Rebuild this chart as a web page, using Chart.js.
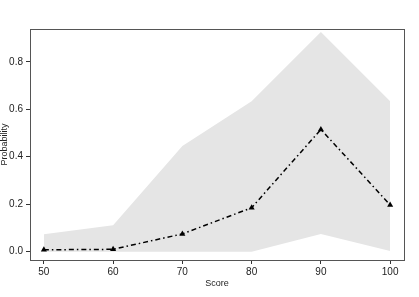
<!DOCTYPE html>
<html>
<head>
<meta charset="utf-8">
<script src="https://cdn.jsdelivr.net/npm/chart.js@4/dist/chart.umd.min.js"></script>
<style>
  html, body { margin: 0; padding: 0; background: #fff; }
  #wrap { width: 419px; height: 297px; }
</style>
</head>
<body>
<div id="wrap"><canvas id="grafico" width="419" height="297"></canvas></div>
<script>
// Data
const scores = [50, 60, 70, 80, 90, 100];
const probability = [0.008, 0.01, 0.075, 0.185, 0.515, 0.197];
const upperBand = [0.073, 0.111, 0.445, 0.634, 0.925, 0.634];
const lowerBand = [0.0, 0.0, 0.0, 0.0, 0.075, 0.003];
const xTicks = [50, 60, 70, 80, 90, 100];
const yTicks = [0.0, 0.2, 0.4, 0.6, 0.8];

const toPoints = (vals) => scores.map((s, i) => ({ x: s, y: vals[i] }));

// box around the plot area, like R's box()
const boxPlugin = {
  id: 'box',
  afterDraw(chart) {
    const a = chart.chartArea;
    const c = chart.ctx;
    c.save();
    c.strokeStyle = '#555';
    c.lineWidth = 1;
    c.strokeRect(Math.round(a.left) + 0.5, Math.round(a.top) + 0.5,
      Math.round(a.right - a.left), Math.round(a.bottom - a.top));
    c.restore();
  }
};

const ctx = document.getElementById('grafico').getContext('2d');

new Chart(ctx, {
  type: 'line',
  data: {
    datasets: [
      {
        label: 'lower',
        data: toPoints(lowerBand),
        borderWidth: 0,
        pointRadius: 0,
        fill: false,
        order: 2
      },
      {
        label: 'upper',
        data: toPoints(upperBand),
        borderWidth: 0,
        pointRadius: 0,
        backgroundColor: '#e5e5e5',
        fill: '-1',
        order: 1
      },
      {
        label: 'Probability',
        data: toPoints(probability),
        borderColor: '#000',
        borderWidth: 1.5,
        borderDash: [5, 3, 1.5, 3],
        pointStyle: 'triangle',
        pointRadius: 3.5,
        pointBackgroundColor: '#000',
        pointBorderColor: '#000',
        pointBorderWidth: 0,
        fill: false,
        order: 0
      }
    ]
  },
  options: {
    responsive: false,
    animation: false,
    layout: { padding: { left: 0, top: 29, right: 15, bottom: 0 } },
    plugins: {
      legend: { display: false },
      tooltip: { enabled: false },
      filler: { drawTime: 'beforeDatasetsDraw' }
    },
    scales: {
      x: {
        type: 'linear',
        min: 48,
        max: 102,
        afterBuildTicks: (s) => { s.ticks = xTicks.map(v => ({ value: v })); },
        afterFit: (s) => { s.height = 37; },
        border: { display: true, color: '#555', width: 1 },
        grid: { drawOnChartArea: false, drawTicks: true, tickLength: 4, color: '#333' },
        ticks: {
          color: '#222',
          padding: 2,
          maxRotation: 0,
          font: { family: 'Liberation Sans', size: 10 },
          callback: (v) => String(v)
        },
        title: {
          display: true,
          text: 'Score',
          color: '#222',
          padding: { top: 0, bottom: 8 },
          font: { family: 'Liberation Sans', size: 9 }
        }
      },
      y: {
        min: -0.035,
        max: 0.938,
        afterBuildTicks: (s) => { s.ticks = yTicks.map(v => ({ value: v })); },
        afterFit: (s) => { s.width = 30; },
        border: { display: true, color: '#555', width: 1 },
        grid: { drawOnChartArea: false, drawTicks: true, tickLength: 4, color: '#333' },
        ticks: {
          color: '#222',
          padding: 3,
          font: { family: 'Liberation Sans', size: 10 },
          callback: (v) => Number(v).toFixed(1)
        },
        title: {
          display: true,
          text: 'Probability',
          color: '#222',
          padding: { top: -1, bottom: 0 },
          font: { family: 'Liberation Sans', size: 9 }
        }
      }
    }
  },
  plugins: [boxPlugin]
});
</script>
</body>
</html>
